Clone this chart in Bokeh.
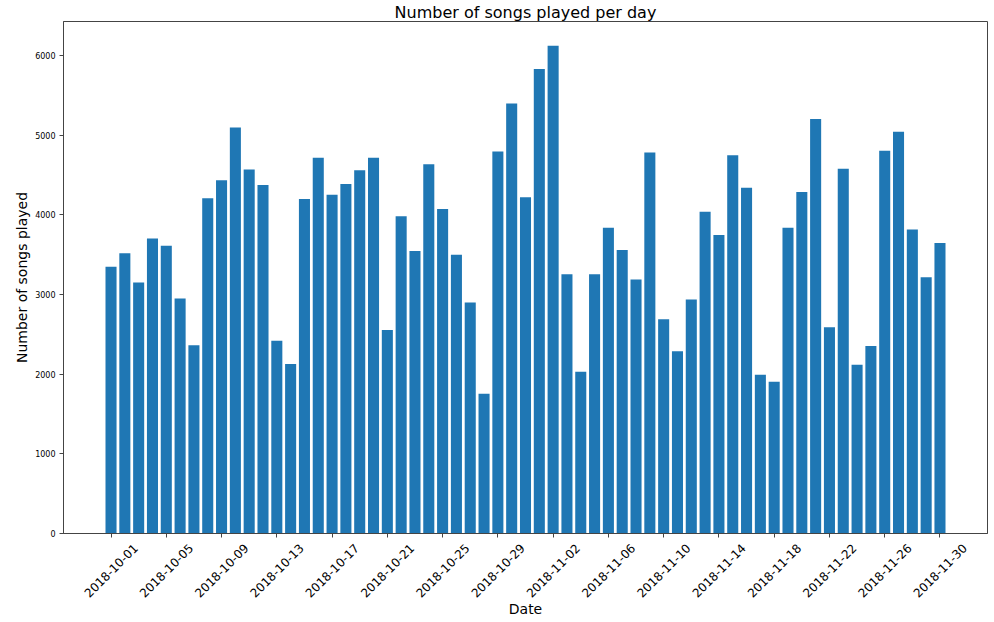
from datetime import datetime, timedelta
from math import pi
from bokeh.plotting import figure
from bokeh.models import FixedTicker, DatetimeTickFormatter, Range1d, ColumnDataSource
from bokeh.core.properties import value
from bokeh.layouts import column
from bokeh.embed import file_html
from bokeh.resources import INLINE

start_date = "2018-10-01"
num_days = 61
songs_played = [
    3350, 3520, 3150, 3705, 3612, 2950, 2362, 4209, 4435, 5098,
    4569, 4376, 2421, 2127, 4200, 4716, 4254, 4389, 4561, 4716,
    2555, 3982, 3546, 4637, 4074, 3499, 2900, 1754, 4796, 5400,
    4220, 5832, 6122, 3256, 2031, 3256, 3839, 3558, 3189, 4783,
    2690, 2287, 2937, 4040, 3747, 4750, 4342, 1993, 1905, 3839,
    4288, 5203, 2589, 4578, 2119, 2354, 4804, 5043, 3818, 3218,
    3646,
]
tick_labels = ["2018-10-01", "2018-10-05", "2018-10-09", "2018-10-13", "2018-10-17",
               "2018-10-21", "2018-10-25", "2018-10-29", "2018-11-02", "2018-11-06",
               "2018-11-10", "2018-11-14", "2018-11-18", "2018-11-22", "2018-11-26",
               "2018-11-30"]
y_ticks = [0, 1000, 2000, 3000, 4000, 5000, 6000]

title_text = "Number of songs played per day"
x_title = "Date"
y_title = "Number of songs played"

FONT = "DejaVu Sans"
DAY_MS = 86400000.0
EPOCH = datetime(1970, 1, 1)
AX_COLOR = "#444444"

d0 = datetime.strptime(start_date, "%Y-%m-%d")
dates = [d0 + timedelta(days=i) for i in range(num_days)]
tick_dates = [datetime.strptime(t, "%Y-%m-%d") for t in tick_labels]
ticks_ms = [(t - EPOCH).total_seconds() * 1000 for t in tick_dates]

src = ColumnDataSource(dict(date=dates, songs=songs_played))
tick_src = ColumnDataSource(dict(x=tick_dates, text=tick_labels))

W = 994
B_LEFT, B_RIGHT = 63, 7
H1, H2 = 539, 83

x_lo = d0 - timedelta(days=3.44)
x_hi = d0 + timedelta(days=63.44)

# ---- main chart ----
p = figure(width=W, height=H1, x_axis_type="datetime",
           output_backend="svg", toolbar_location=None,
           x_range=Range1d(x_lo, x_hi), y_range=Range1d(0, 6428),
           min_border_left=B_LEFT, min_border_right=B_RIGHT,
           min_border_top=0, min_border_bottom=6)

p.vbar(x="date", top="songs", width=0.8 * DAY_MS, source=src,
       fill_color="#1f77b4", line_color=None)

p.title.text = title_text
p.title.text_font = FONT
p.title.text_font_size = "16px"
p.title.text_font_style = "normal"
p.title.text_color = "#000000"
p.title.align = "center"
p.title.standoff = 0

p.xaxis.ticker = FixedTicker(ticks=ticks_ms)
p.xaxis.formatter = DatetimeTickFormatter(days="%Y-%m-%d", months="%Y-%m-%d")
p.xaxis.major_label_text_font_size = "0px"
p.xaxis.major_label_text_color = None
p.xaxis.major_label_standoff = 0

p.yaxis.ticker = FixedTicker(ticks=y_ticks)
p.yaxis.major_label_text_font_size = "8px"
p.yaxis.major_label_text_font = FONT
p.yaxis.major_label_text_color = "#000000"
p.yaxis.major_label_standoff = 4
p.yaxis.axis_label = y_title
p.yaxis.axis_label_text_font = FONT
p.yaxis.axis_label_text_font_size = "14px"
p.yaxis.axis_label_text_font_style = "normal"
p.yaxis.axis_label_text_color = "#000000"
p.yaxis.axis_label_standoff = 2

for ax in (p.xaxis[0], p.yaxis[0]):
    ax.axis_line_color = AX_COLOR
    ax.major_tick_line_color = AX_COLOR
    ax.minor_tick_line_color = None
    ax.major_tick_out = 4
    ax.major_tick_in = 0

p.xgrid.visible = False
p.ygrid.visible = False
p.outline_line_color = AX_COLOR

# ---- strip under the chart: rotated date labels centred on ticks, and axis title ----
p2 = figure(width=W, height=H2, x_axis_type="datetime",
            output_backend="svg", toolbar_location=None,
            x_range=p.x_range, y_range=Range1d(0, H2),
            min_border_left=B_LEFT, min_border_right=B_RIGHT,
            min_border_top=0, min_border_bottom=0)
p2.axis.visible = False
p2.xgrid.visible = False
p2.ygrid.visible = False
p2.outline_line_color = None

p2.text(x="x", y=52, text="text", source=tick_src, angle=pi / 4,
        text_align="center", text_baseline="middle",
        text_font=value(FONT), text_font_size=value("12px"), text_color="#000000")

x_mid = x_lo + (x_hi - x_lo) / 2
p2.text(x=[x_mid], y=[14], text=[x_title], text_align="center", text_baseline="middle",
        text_font=value(FONT), text_font_size=value("14px"), text_color="#000000")

open("out.html", "w").write(file_html(column(p, p2), INLINE))
